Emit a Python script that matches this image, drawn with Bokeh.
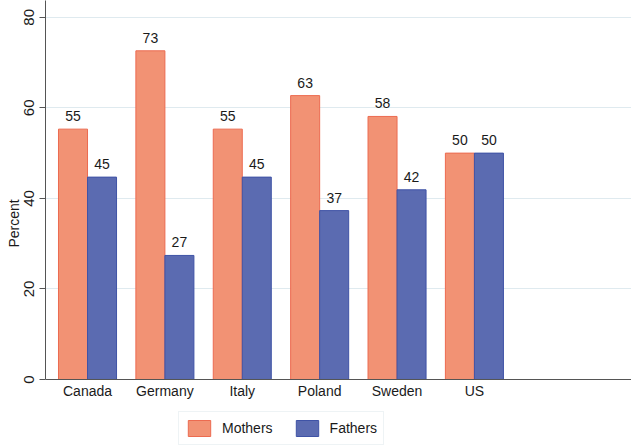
from bokeh.plotting import figure
from bokeh.models import ColumnDataSource, FixedTicker, Range1d, Legend, LegendItem
from bokeh.core.properties import value
from bokeh.embed import file_html
from bokeh.resources import INLINE

countries = ["Canada", "Germany", "Italy", "Poland", "Sweden", "US"]
mothers = [55.3, 72.6, 55.3, 62.7, 58.1, 50.0]
fathers = [44.7, 27.4, 44.7, 37.3, 41.9, 50.0]
y_ticks = [0, 20, 40, 60, 80]

FONT = "Liberation Sans"
M_FILL, M_LINE = "#f29274", "#ec6b50"
F_FILL, F_LINE = "#5b6bb1", "#3f53a6"

idx = list(range(len(countries)))
bw = 0.375
src = ColumnDataSource(dict(
    xm=[i - bw / 2 for i in idx],
    xf=[i + bw / 2 for i in idx],
    m=mothers,
    f=fathers,
    ml=[f"{v:.0f}" for v in mothers],
    fl=[f"{v:.0f}" for v in fathers],
))

p = figure(width=631, height=446, output_backend="svg", toolbar_location=None,
           x_range=Range1d(-0.543, 7.03), y_range=Range1d(-14.8, 83.71),
           min_border_left=45, min_border_right=0, min_border_top=0, min_border_bottom=0)
p.background_fill_color = "white"
p.border_fill_color = "white"
p.outline_line_color = None

rm = p.vbar(x="xm", top="m", width=bw, source=src, fill_color=M_FILL, line_color=M_LINE, line_width=1)
rf = p.vbar(x="xf", top="f", width=bw, source=src, fill_color=F_FILL, line_color=F_LINE, line_width=1)

p.text(x="xm", y="m", text="ml", source=src, text_align="center", text_baseline="alphabetic",
       y_offset=-13, text_font=value(FONT), text_font_size="14px", text_color="#1a1a1a")
p.text(x="xf", y="f", text="fl", source=src, text_align="center", text_baseline="alphabetic",
       y_offset=-13, text_font=value(FONT), text_font_size="14px", text_color="#1a1a1a")

# grid
p.xgrid.visible = False
p.ygrid.grid_line_color = "#dfeaef"
p.ygrid.grid_line_width = 1
p.ygrid.ticker = FixedTicker(ticks=y_ticks)

# y axis
ya = p.yaxis[0]
ya.ticker = FixedTicker(ticks=y_ticks)
ya.bounds = (0, 83.71)
ya.axis_label = "Percent"
ya.axis_label_text_font = FONT
ya.axis_label_text_font_style = "normal"
ya.axis_label_text_font_size = "14px"
ya.axis_label_text_color = "#1a1a1a"
ya.axis_label_standoff = 0
ya.major_label_orientation = "vertical"
ya.major_label_text_font = FONT
ya.major_label_text_font_size = "15px"
ya.major_label_text_color = "#1a1a1a"
ya.major_label_standoff = 5
ya.major_tick_out = 6
ya.major_tick_in = 0
ya.minor_tick_out = 0
ya.minor_tick_in = 0
ya.axis_line_color = "#555555"
ya.major_tick_line_color = "#555555"

# x axis, pinned at y = 0 inside the plot area
xa = p.xaxis[0]
xa.fixed_location = 0
xa.ticker = FixedTicker(ticks=idx)
xa.major_label_overrides = {i: c for i, c in zip(idx, countries)}
xa.major_label_text_font = FONT
xa.major_label_text_font_size = "14px"
xa.major_label_text_color = "#1a1a1a"
xa.major_label_standoff = 4
xa.major_tick_out = 0
xa.major_tick_in = 0
xa.minor_tick_out = 0
xa.minor_tick_in = 0
xa.axis_line_color = "#555555"

legend = Legend(items=[LegendItem(label="Mothers", renderers=[rm]),
                       LegendItem(label="Fathers", renderers=[rf])],
                orientation="horizontal", location=(133, 1),
                glyph_width=28, glyph_height=20, label_height=20,
                label_standoff=9, spacing=20, padding=6, margin=0,
                label_text_font=FONT, label_text_font_size="14px", label_text_color="#1a1a1a",
                border_line_color="#dde8ec", border_line_width=1,
                background_fill_color="white", background_fill_alpha=1.0)
p.add_layout(legend, "center")

open("out.html", "w").write(file_html(p, INLINE))
